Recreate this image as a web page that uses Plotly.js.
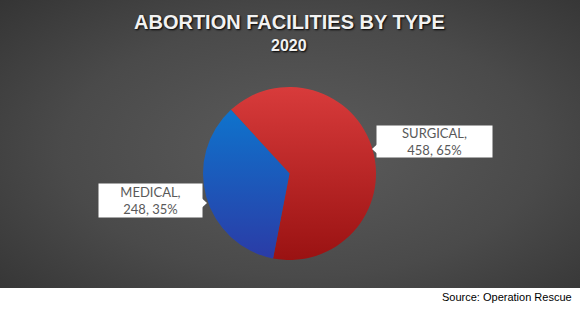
<!DOCTYPE html>
<html>
<head>
<meta charset="utf-8">
<script src="https://cdn.plot.ly/plotly-3.0.1.min.js"></script>
<style>
  html, body { margin: 0; padding: 0; background: #ffffff; }
  #chart {
    width: 580px; height: 311px;
    background-color: #ffffff;
    background-image: radial-gradient(ellipse 75% 80% at 52% 52%, #5c5c5c 0%, #4a4a4a 55%, #323232 100%);
    background-size: 580px 288px;
    background-repeat: no-repeat;
  }
</style>
</head>
<body>
<div id="chart"></div>
<script>
// ---- data ----
const categories = ["SURGICAL", "MEDICAL"];
const values = [458, 248];
const sliceColors = ["#c42a2a", "#1a5cba"];
const titleText = "ABORTION FACILITIES BY TYPE";
const subtitleText = "2020";
const sourceText = "Source: Operation Rescue";

const total = values.reduce((a, b) => a + b, 0);
const labelTexts = categories.map((c, i) =>
  c + ",<br>" + values[i] + ", " + Math.round(values[i] / total * 100) + "%");

const W = 580, H = 311;
const px = x => x / W;
const py = y => 1 - y / H;

const trace = {
  type: "pie",
  labels: categories,
  values: values,
  sort: false,
  direction: "clockwise",
  rotation: -42.6,
  textinfo: "none",
  hoverinfo: "none",
  marker: { colors: sliceColors, line: { width: 0 } },
  domain: { x: [px(203), px(376)], y: [py(260), py(87)] },
  showlegend: false
};

const labelFont = { family: "Lato, 'Open Sans', sans-serif", size: 13, color: "#595959" };

const layout = {
  width: W, height: H,
  margin: { l: 0, r: 0, t: 0, b: 0 },
  paper_bgcolor: "rgba(0,0,0,0)",
  plot_bgcolor: "rgba(0,0,0,0)",
  showlegend: false,
  annotations: [
    { text: titleText, xref: "paper", yref: "paper", x: px(289), y: py(22),
      xanchor: "center", yanchor: "middle", showarrow: false,
      font: { family: "'Liberation Sans', Arial, sans-serif", size: 20, weight: "bold", color: "#f2f2f2",
              shadow: "1px 1px 2px #000000" } },
    { text: subtitleText, xref: "paper", yref: "paper", x: px(289), y: py(46),
      xanchor: "center", yanchor: "middle", showarrow: false,
      font: { family: "'Liberation Sans', Arial, sans-serif", size: 16, weight: "bold", color: "#f2f2f2",
              shadow: "1px 1px 2px #000000" } },
    { text: labelTexts[0], xref: "paper", yref: "paper", x: px(434.5), y: py(141.5),
      xanchor: "center", yanchor: "middle", showarrow: false,
      width: 115, height: 31, borderpad: 0, bgcolor: "#ffffff", font: labelFont },
    { text: labelTexts[1], xref: "paper", yref: "paper", x: px(150.5), y: py(200.5),
      xanchor: "center", yanchor: "middle", showarrow: false,
      width: 103, height: 33, borderpad: 0, bgcolor: "#ffffff", font: labelFont },
    { text: sourceText, xref: "paper", yref: "paper", x: px(574), y: py(297),
      xanchor: "right", yanchor: "middle", showarrow: false,
      font: { family: "'Liberation Sans', Arial, sans-serif", size: 11, color: "#000000" } }
  ],
  shapes: [
    { type: "path", xref: "paper", yref: "paper", line: { width: 0 }, fillcolor: "#ffffff",
      path: `M ${px(377.5)} ${py(144)} L ${px(372)} ${py(149)} L ${px(377.5)} ${py(154)} Z` },
    { type: "path", xref: "paper", yref: "paper", line: { width: 0 }, fillcolor: "#ffffff",
      path: `M ${px(201.5)} ${py(198)} L ${px(207)} ${py(203)} L ${px(201.5)} ${py(208)} Z` }
  ]
};

Plotly.newPlot("chart", [trace], layout, { staticPlot: true, displayModeBar: false }).then(gd => {
  // vertical gradients on the slices
  const svg = gd.querySelector(".main-svg");
  const ns = "http://www.w3.org/2000/svg";
  let defs = svg.querySelector("defs");
  if (!defs) { defs = document.createElementNS(ns, "defs"); svg.insertBefore(defs, svg.firstChild); }
  const grads = [["gRed", "#d83b3b", "#9a1212"], ["gBlue", "#0a7cd2", "#2b3ba6"]];
  const paths = gd.querySelectorAll(".slice path.surface");
  // use the whole pie's bbox for both gradients
  let minY = Infinity, maxY = -Infinity;
  paths.forEach(p => { const b = p.getBBox(); minY = Math.min(minY, b.y); maxY = Math.max(maxY, b.y + b.height); });
  grads.forEach(([id, c1, c2]) => {
    const lg = document.createElementNS(ns, "linearGradient");
    lg.setAttribute("id", id);
    lg.setAttribute("gradientUnits", "userSpaceOnUse");
    lg.setAttribute("x1", "0"); lg.setAttribute("x2", "0");
    lg.setAttribute("y1", String(minY)); lg.setAttribute("y2", String(maxY));
    [[0, c1], [1, c2]].forEach(([o, c]) => {
      const s = document.createElementNS(ns, "stop");
      s.setAttribute("offset", o); s.setAttribute("stop-color", c);
      lg.appendChild(s);
    });
    defs.appendChild(lg);
  });
  paths.forEach((p, i) => { p.style.fill = "url(#" + grads[i][0] + ")"; });
});
</script>
</body>
</html>
